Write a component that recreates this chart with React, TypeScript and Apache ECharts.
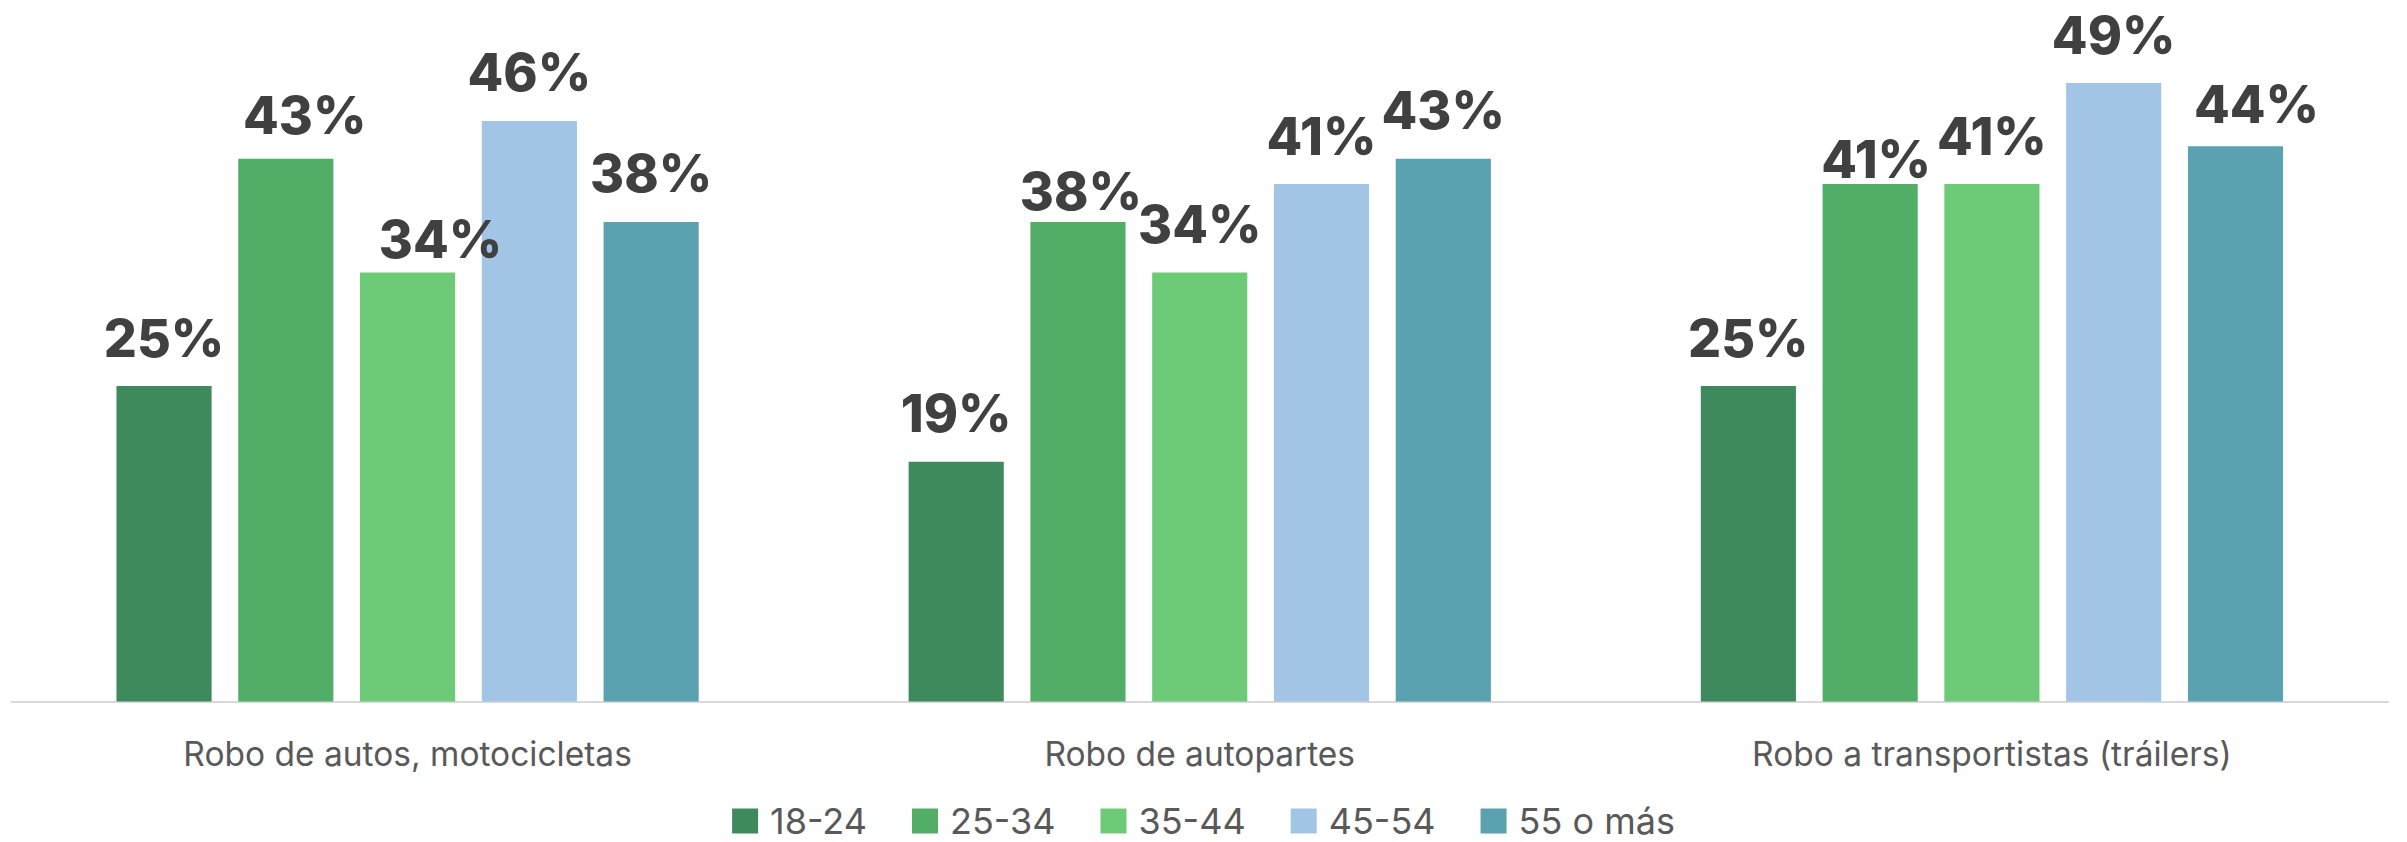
import React, { useEffect, useRef } from "react";
import * as echarts from "echarts";

const categories = [
  "Robo de autos, motocicletas",
  "Robo de autopartes",
  "Robo a transportistas (tráilers)",
];
const ageGroups = ["18-24", "25-34", "35-44", "45-54", "55 o más"];
const s18_24 = [25, 19, 25];
const s25_34 = [43, 38, 41];
const s35_44 = [34, 34, 41];
const s45_54 = [46, 41, 49];
const s55 = [38, 43, 44];
const seriesValues = [s18_24, s25_34, s35_44, s45_54, s55];
const colors = ["#3E8A5D", "#52AE66", "#6DCB77", "#A2C4E5", "#5AA2AF"];
// manual label nudges [dx, dy] per series per category (as in the source)
const labelNudges = [
  [[0, 0], [0, 0], [0, 0]],
  [[19, 5], [3, 18], [6, 23]],
  [[33, 15], [0, 0], [0, 0]],
  [[0, 0], [0, 0], [0, 0]],
  [[0, 0], [0, 0], [21, 6]],
];

const FONT = "Inter, 'Open Sans', sans-serif";

export default function App() {
  const ref = useRef<HTMLDivElement>(null);
  useEffect(() => {
    if (!ref.current) return;
    const chart = echarts.init(ref.current, null, { renderer: "svg" });
    chart.setOption({
      animation: false,
      color: colors,
      grid: { left: 11.5, right: 19, top: 70.5, bottom: 140.5, containLabel: false },
      legend: {
        data: ageGroups,
        top: 803,
        left: "center",
        padding: 0,
        itemWidth: 26,
        itemHeight: 25,
        itemGap: 45,
        icon: "rect",
        textStyle: {
          fontFamily: FONT,
          fontSize: 36,
          lineHeight: 36,
          color: "#595959",
          padding: [0, 0, 0, 7],
        },
      },
      xAxis: {
        type: "category",
        data: categories,
        axisLine: { show: true, lineStyle: { color: "#D9D9D9", width: 2 } },
        axisTick: { show: false },
        axisLabel: { fontFamily: FONT, fontSize: 33.5, color: "#595959", margin: 35 },
      },
      yAxis: {
        type: "value",
        min: 0,
        max: 50,
        show: false,
        splitLine: { show: false },
      },
      series: ageGroups.map((name, i) => ({
        name,
        type: "bar",
        barCategoryGap: "26.5%",
        barGap: "28%",
        data: seriesValues[i].map((v, j) => ({
          value: v,
          label: { offset: labelNudges[i][j] },
        })),
        label: {
          show: true,
          position: "top",
          distance: 22,
          formatter: "{c}%",
          fontFamily: FONT,
          fontWeight: 800,
          fontSize: 52,
          color: "#404040",
        },
      })),
    });
    return () => chart.dispose();
  }, []);
  return (
    <div
      ref={ref}
      style={{ position: "fixed", left: 0, top: 0, width: 2407, height: 842, background: "#fff" }}
    />
  );
}
